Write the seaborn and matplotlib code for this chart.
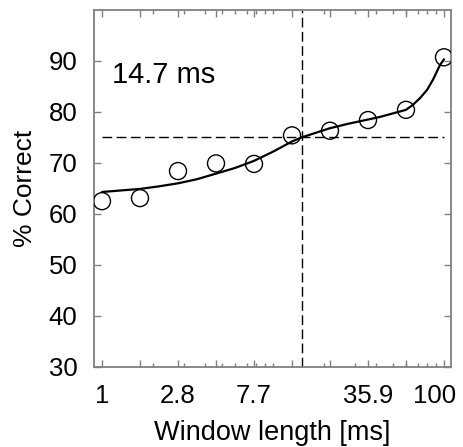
import numpy as np
import seaborn as sns
import matplotlib.pyplot as plt
import matplotlib.transforms as mtrans
from matplotlib.ticker import FixedLocator, FixedFormatter

# window lengths (ms) and % correct for each
window_ms = [1, 1.668, 2.783, 4.642, 7.743, 12.92, 21.54, 35.94, 59.95, 100]
pct_correct = [62.5, 63.1, 68.4, 69.9, 69.8, 75.4, 76.3, 78.4, 80.4, 90.7]

# fitted curve
fit_ms = [1, 1.29, 1.668, 2.15, 2.783, 3.59, 4.642, 5.99, 7.743, 10, 12.92, 14.7,
          16.7, 21.54, 27.8, 35.94, 42.1, 59.95, 65.9, 72.4, 79.6, 86.2, 94.8, 100]
fit_pct = [64.3, 64.6, 64.9, 65.4, 66.0, 66.8, 67.9, 69.0, 70.4, 72.2, 74.2, 75.0,
           75.6, 76.8, 77.7, 78.5, 79.0, 80.4, 81.4, 82.7, 84.3, 86.3, 89.2, 90.3]

threshold_ms = 14.7
threshold_pct = 75
tick_labels = ["1", "", "2.8", "", "7.7", "", "", "35.9", "", "100"]
minor_ticks = [2, 3, 4, 5, 6, 7, 8, 9, 10, 20, 30, 40, 50, 60, 70, 80, 90]

sns.set_theme(style="ticks")
plt.rcParams['font.family'] = ['Liberation Sans', 'DejaVu Sans']
plt.rcParams['text.color'] = 'black'
plt.rcParams['axes.labelcolor'] = 'black'

fig = plt.figure(figsize=(4.64, 4.47), dpi=100)
ax = fig.add_axes([0.2026, 0.179, 0.7694, 0.799])

ax.hlines(threshold_pct, window_ms[0], window_ms[-1], colors="black",
          linestyles=(0, (7, 3.2)), linewidth=1.0)
ax.axvline(threshold_ms, color="black", linestyle=(0, (7, 3.2)), linewidth=1.0)

sns.lineplot(x=fit_ms, y=fit_pct, color="black", linewidth=1.6, ax=ax)
sns.scatterplot(x=window_ms, y=pct_correct, s=150, marker="o",
                edgecolor="black", linewidth=1.0, ax=ax, zorder=3)
ax.collections[-1].set_facecolor("none")

ax.set_xscale("log")
ax.set_xlim(0.898, 109.9)
ax.set_ylim(30, 100)
ax.xaxis.set_major_locator(FixedLocator(window_ms))
ax.xaxis.set_major_formatter(FixedFormatter(tick_labels))
ax.xaxis.set_minor_locator(FixedLocator(minor_ticks))
ax.xaxis.set_minor_formatter(FixedFormatter([""] * len(minor_ticks)))
ax.set_yticks([30, 40, 50, 60, 70, 80, 90])

for s in ax.spines.values():
    s.set_color("#808080")
    s.set_linewidth(1.3)
ax.tick_params(which="both", direction="in", top=True, right=True,
               color="#808080", labelsize=18.5, labelcolor="black")
ax.tick_params(which="major", length=5, width=1)
ax.tick_params(which="minor", length=3, width=1)
ax.tick_params(axis="x", pad=12)
ax.tick_params(axis="y", pad=12)

# nudge the last x label inward so it stays inside the figure
last = ax.xaxis.get_majorticklabels()[-1]
last.set_transform(last.get_transform() +
                   mtrans.ScaledTranslation(-7 / 72, 0, fig.dpi_scale_trans))

ax.set_xlabel("Window length [ms]", fontsize=19.5, labelpad=9)
ax.set_ylabel("% Correct", fontsize=19, labelpad=8)
ax.text(1.14, 87.3, "14.7 ms", fontsize=21, va="center", ha="left")

fig.savefig("out.png", dpi=100)
